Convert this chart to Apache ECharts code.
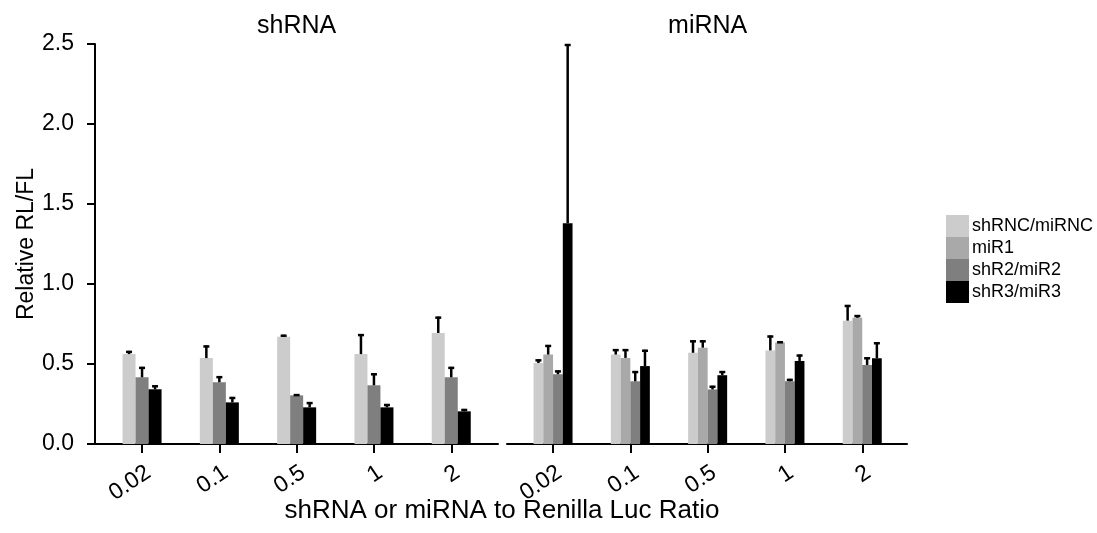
<!DOCTYPE html>
<html>
<head>
<meta charset="utf-8">
<script src="https://cdn.jsdelivr.net/npm/echarts@6/dist/echarts.min.js"></script>
<style>
  html, body { margin: 0; padding: 0; background: #fff; }
  #chart { width: 1097px; height: 533px; }
</style>
</head>
<body>
<div id="chart"></div>
<script>
// ---- data ----
const categories = ['0.02', '0.1', '0.5', '1', '2'];
const yTicks = [0, 0.5, 1.0, 1.5, 2.0, 2.5];

// shRNA panel (means and upward SEM)
const shRNC = [0.562, 0.537, 0.671, 0.562, 0.694];
const shRNC_err = [0.020, 0.079, 0.012, 0.125, 0.102];
const shR2 = [0.417, 0.386, 0.304, 0.367, 0.417];
const shR2_err = [0.065, 0.038, 0.008, 0.075, 0.065];
const shR3 = [0.342, 0.260, 0.229, 0.229, 0.204];
const shR3_err = [0.025, 0.034, 0.033, 0.021, 0.015];

// miRNA panel
const miRNC = [0.506, 0.559, 0.570, 0.585, 0.771];
const miRNC_err = [0.023, 0.034, 0.078, 0.093, 0.098];
const miR1 = [0.559, 0.538, 0.602, 0.634, 0.789];
const miR1_err = [0.060, 0.055, 0.046, 0.008, 0.017];
const miR2 = [0.436, 0.392, 0.341, 0.392, 0.494];
const miR2_err = [0.024, 0.064, 0.023, 0.015, 0.048];
const miR3 = [1.380, 0.487, 0.430, 0.519, 0.536];
const miR3_err = [1.120, 0.102, 0.026, 0.040, 0.100];

const legendNames = ['shRNC/miRNC', 'miR1', 'shR2/miR2', 'shR3/miR3'];
const colors = { 'shRNC/miRNC': '#cccccc', 'miR1': '#a9a9a9', 'shR2/miR2': '#7f7f7f', 'shR3/miR3': '#000000' };

// ---- layout/style ----
const FONT = 'Liberation Sans, Arial, Helvetica, sans-serif';
const TOP = 44, H = 400;
const G0L = 103.4, G1L = 514.4, GW = 386.5;

const chart = echarts.init(document.getElementById('chart'), null, { renderer: 'canvas' });

function barSeries(name, data, grid, barW) {
  return {
    type: 'bar', name, data, xAxisIndex: grid, yAxisIndex: grid,
    barWidth: barW, barGap: '0%',
    itemStyle: { color: colors[name] },
    emphasis: { disabled: true }, animation: false
  };
}
function errSeries(name, vals, errs, grid, idx, n, barW) {
  const off = (idx - (n - 1) / 2) * barW;
  return {
    type: 'custom', name: name + ' err', xAxisIndex: grid, yAxisIndex: grid,
    data: vals.map((v, i) => [i, v, errs[i]]),
    encode: { x: 0, y: 1 }, z: 5, animation: false, silent: true,
    renderItem: function (params, api) {
      const i = api.value(0), v = api.value(1), e = api.value(2);
      const p0 = api.coord([i, v]);
      const p1 = api.coord([i, v + e]);
      const x = p0[0] + off;
      const yTop = Math.max(p1[1], TOP);
      return {
        type: 'group', children: [
          { type: 'line', shape: { x1: x, y1: p0[1], x2: x, y2: yTop }, style: { stroke: '#000', lineWidth: 2.5 } },
          { type: 'line', shape: { x1: x - 3, y1: yTop + 1, x2: x + 3, y2: yTop + 1 }, style: { stroke: '#000', lineWidth: 2.5 } }
        ]
      };
    }
  };
}

const catAxis = (grid) => ({
  type: 'category', gridIndex: grid, data: categories,
  axisLine: { show: false },
  axisTick: { show: true, alignWithLabel: true, length: 9, lineStyle: { color: '#000', width: 2 } },
  axisLabel: { interval: 0, rotate: 34, margin: 17, verticalAlign: 'top', fontSize: 23, color: '#000', fontFamily: FONT },
  splitLine: { show: false }
});
const valAxis = (grid, show) => ({
  type: 'value', gridIndex: grid, min: 0, max: 2.5, interval: 0.5,
  show: show, offset: 8.4,
  axisLine: { show: true, lineStyle: { color: '#000', width: 2 } },
  axisTick: { show: true, length: 8, lineStyle: { color: '#000', width: 2 } },
  axisLabel: { margin: 21, fontSize: 23, color: '#000', fontFamily: FONT, formatter: v => v.toFixed(1) },
  splitLine: { show: false },
  name: show ? 'Relative RL/FL' : '', nameLocation: 'middle', nameGap: 55,
  nameTextStyle: { fontSize: 23, color: '#000', fontFamily: FONT }
});
const lineX = (grid) => ({
  type: 'value', gridIndex: grid, min: 0, max: 1,
  axisLine: { show: true, onZero: false, lineStyle: { color: '#000', width: 2 } },
  axisTick: { show: false }, axisLabel: { show: false }, splitLine: { show: false }
});
const hidY = (grid) => ({ type: 'value', gridIndex: grid, min: 0, max: 1, show: false });

const LW = 13, RW = 9.75;
const option = {
  backgroundColor: '#fff',
  animation: false,
  grid: [
    { left: G0L, top: TOP, width: GW, height: H },
    { left: G1L, top: TOP, width: GW, height: H },
    { left: 95, top: TOP, width: 403, height: H },
    { left: 507, top: TOP, width: 400, height: H }
  ],
  xAxis: [catAxis(0), catAxis(1), lineX(2), lineX(3)],
  yAxis: [valAxis(0, true), valAxis(1, false), hidY(2), hidY(3)],
  legend: {
    data: legendNames, orient: 'vertical', left: 946, top: 215, padding: 0,
    itemWidth: 23, itemHeight: 22, itemGap: 0, icon: 'rect',
    textStyle: { fontSize: 18, color: '#000', fontFamily: FONT, padding: [0, 0, 0, -2] },
    selectedMode: false
  },
  graphic: [
    { type: 'text', x: G0L + GW / 2, y: 26, style: { text: 'shRNA', font: '25px ' + FONT, fill: '#000', textAlign: 'center', textVerticalAlign: 'middle' } },
    { type: 'text', x: G1L + GW / 2, y: 26, style: { text: 'miRNA', font: '25px ' + FONT, fill: '#000', textAlign: 'center', textVerticalAlign: 'middle' } },
    { type: 'text', x: 502, y: 511, style: { text: 'shRNA or miRNA to Renilla Luc Ratio', font: '26px ' + FONT, fill: '#000', textAlign: 'center', textVerticalAlign: 'middle' } }
  ],
  series: [
    barSeries('shRNC/miRNC', shRNC, 0, LW),
    barSeries('shR2/miR2', shR2, 0, LW),
    barSeries('shR3/miR3', shR3, 0, LW),
    barSeries('shRNC/miRNC', miRNC, 1, RW),
    barSeries('miR1', miR1, 1, RW),
    barSeries('shR2/miR2', miR2, 1, RW),
    barSeries('shR3/miR3', miR3, 1, RW),
    errSeries('shRNC', shRNC, shRNC_err, 0, 0, 3, LW),
    errSeries('shR2', shR2, shR2_err, 0, 1, 3, LW),
    errSeries('shR3', shR3, shR3_err, 0, 2, 3, LW),
    errSeries('miRNC', miRNC, miRNC_err, 1, 0, 4, RW),
    errSeries('miR1', miR1, miR1_err, 1, 1, 4, RW),
    errSeries('miR2', miR2, miR2_err, 1, 2, 4, RW),
    errSeries('miR3', miR3, miR3_err, 1, 3, 4, RW)
  ]
};
chart.setOption(option);
</script>
</body>
</html>
